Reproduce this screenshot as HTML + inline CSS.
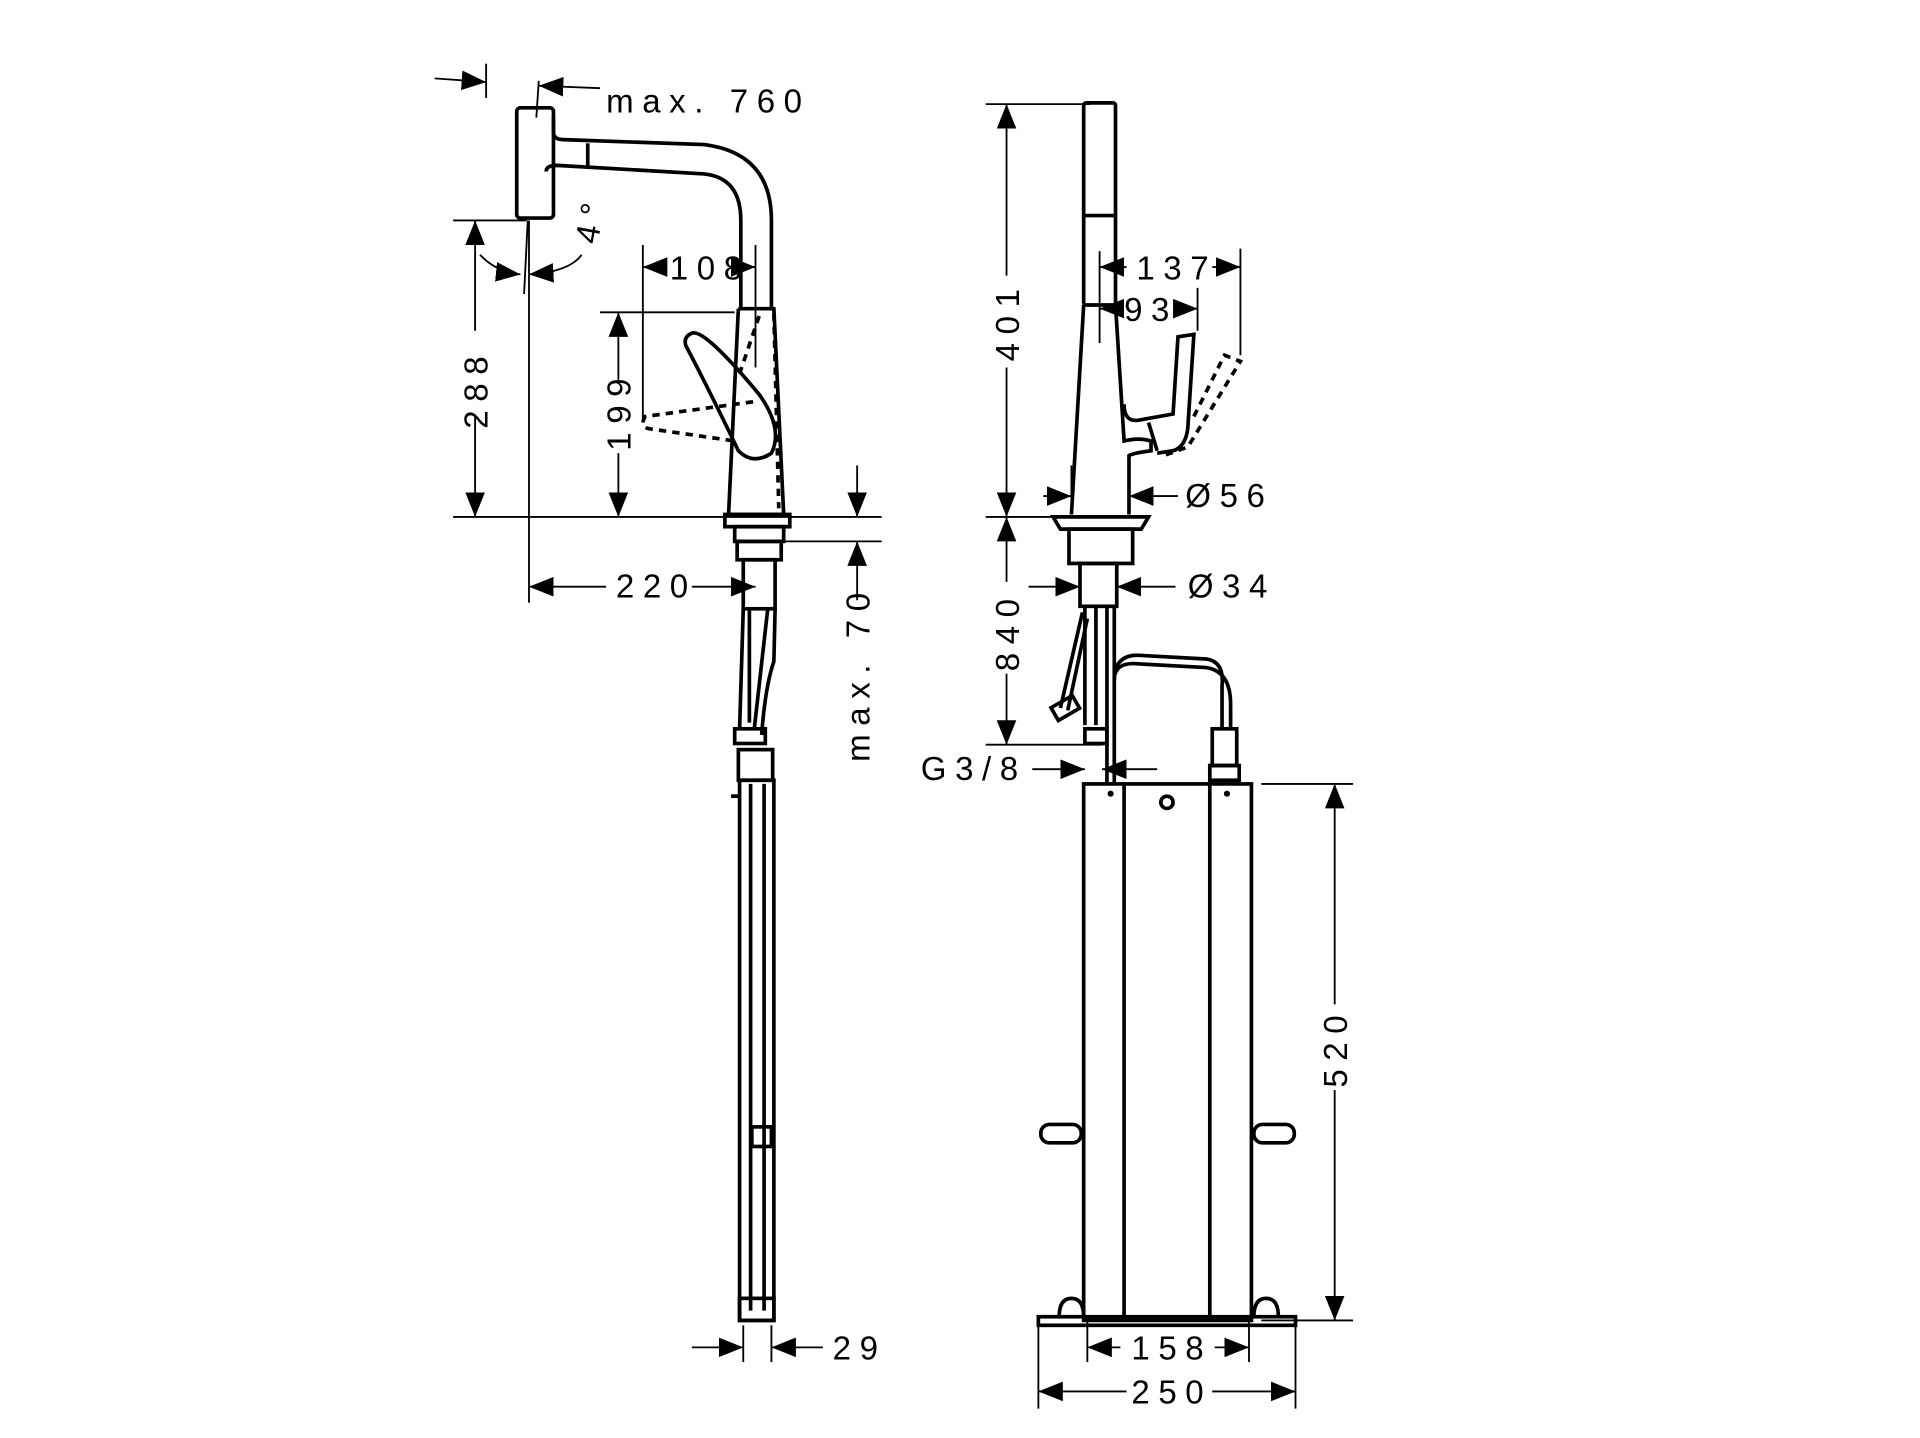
<!DOCTYPE html>
<html><head><meta charset="utf-8"><style>
html,body{margin:0;padding:0;background:#fff}
svg{display:block}
text{font-family:"Liberation Sans",sans-serif;font-size:27px;fill:#000;letter-spacing:7px}
</style></head><body>
<svg width="1920" height="1438" viewBox="0 0 1568 1174" preserveAspectRatio="none" xmlns="http://www.w3.org/2000/svg">
<defs>
<marker id="a" viewBox="0 0 20 16" refX="20" refY="8" markerWidth="20" markerHeight="16" markerUnits="userSpaceOnUse" orient="auto-start-reverse"><path d="M0,0 L20,8 L0,16z" fill="#000"/></marker>
</defs>
<g fill="none" stroke="#000" stroke-width="1.5">
<line x1="370" y1="180" x2="430" y2="180"/>
<line x1="370" y1="422" x2="720" y2="422"/>
<line x1="640" y1="442" x2="720" y2="442"/>
<line x1="432" y1="180" x2="432" y2="492"/>
<line x1="397" y1="52" x2="397" y2="80"/>
<line x1="440" y1="66" x2="438" y2="96"/>
<line x1="525" y1="200" x2="525" y2="345"/>
<line x1="617" y1="200" x2="617" y2="300"/>
<line x1="490" y1="255" x2="600" y2="255"/>
<line x1="607" y1="1082" x2="607" y2="1112"/>
<line x1="630" y1="1082" x2="630" y2="1112"/>
<line x1="355" y1="64" x2="397" y2="67" marker-end="url(#a)"/>
<line x1="490" y1="72" x2="440" y2="70" marker-end="url(#a)"/>
<line x1="388" y1="270" x2="388" y2="180" marker-end="url(#a)"/>
<line x1="388" y1="340" x2="388" y2="422" marker-end="url(#a)"/>
<line x1="505" y1="310" x2="505" y2="255" marker-end="url(#a)"/>
<line x1="505" y1="370" x2="505" y2="422" marker-end="url(#a)"/>
<line x1="545" y1="218" x2="525" y2="218" marker-end="url(#a)"/>
<line x1="597" y1="218" x2="617" y2="218" marker-end="url(#a)"/>
<line x1="495" y1="479" x2="432" y2="479" marker-end="url(#a)"/>
<line x1="565" y1="479" x2="617" y2="479" marker-end="url(#a)"/>
<line x1="700" y1="380" x2="700" y2="422" marker-end="url(#a)"/>
<line x1="700" y1="490" x2="700" y2="442" marker-end="url(#a)"/>
<line x1="565" y1="1100" x2="607" y2="1100" marker-end="url(#a)"/>
<line x1="672" y1="1100" x2="630" y2="1100" marker-end="url(#a)"/>
<path d="M392,208 Q405,222 425,224" marker-end="url(#a)"/>
<path d="M475,208 Q465,222 432,224" marker-end="url(#a)"/>
<line x1="431" y1="180" x2="428" y2="240"/>
</g>
<g fill="none" stroke="#000" stroke-width="3">
<rect x="422" y="88" width="30" height="90" rx="3"/>
<path d="M452,96 L452,108 Q452,114 460,114 L575,118 Q630,125 630,180 L630,252"/>
<path d="M446,140 Q446,135 455,135 L575,142 Q605,145 605,180 L605,252"/>
<line x1="480" y1="117" x2="480" y2="138"/>
<path d="M603,252 L632,252 L640,420 L595,420 L603,252"/>
<path d="M565,272 Q575,268 620,322 Q640,350 630,370 Q615,380 603,368 Q580,320 560,282 Q558,275 565,272z"/>
<rect x="592" y="420" width="53" height="10"/>
<rect x="600" y="430" width="40" height="12"/>
<rect x="602" y="442" width="36" height="15"/>
<rect x="607" y="457" width="26" height="40"/>
<path d="M607,497 L604,595 M633,497 L632,540 Q625,560 622,600 M612,497 L612,590 M627,497 Q622,540 616,595"/>
<rect x="600" y="595" width="25" height="12"/>
<rect x="603" y="612" width="28" height="25"/>
<rect x="604" y="637" width="28" height="441"/>
<line x1="613" y1="640" x2="613" y2="1070"/>
<line x1="624" y1="640" x2="624" y2="1070"/>
<rect x="604" y="1060" width="28" height="18"/>
<line x1="597" y1="650" x2="604" y2="650"/>
<rect x="614" y="920" width="16" height="16"/>
</g>
<g fill="none" stroke="#000" stroke-width="3" stroke-dasharray="6,5">
<path d="M632,256 L636,415"/>
<path d="M620,258 L604,305"/>
<path d="M615,328 L527,340 Q522,348 530,350 L600,360"/>
</g>
<g fill="none" stroke="#000" stroke-width="1.5">
<line x1="805" y1="85" x2="890" y2="85"/>
<line x1="805" y1="422" x2="860" y2="422"/>
<line x1="805" y1="608" x2="900" y2="608"/>
<line x1="898" y1="205" x2="898" y2="280"/>
<line x1="1013" y1="203" x2="1013" y2="290"/>
<line x1="978" y1="235" x2="978" y2="270"/>
<line x1="875" y1="380" x2="875" y2="420"/>
<line x1="922" y1="380" x2="922" y2="420"/>
<line x1="848" y1="1078" x2="848" y2="1150"/>
<line x1="1058" y1="1078" x2="1058" y2="1150"/>
<line x1="888" y1="1078" x2="888" y2="1112"/>
<line x1="1020" y1="1078" x2="1020" y2="1112"/>
<line x1="1030" y1="640" x2="1105" y2="640"/>
<line x1="1030" y1="1078" x2="1105" y2="1078"/>
<line x1="822" y1="225" x2="822" y2="85" marker-end="url(#a)"/>
<line x1="822" y1="300" x2="822" y2="422" marker-end="url(#a)"/>
<line x1="822" y1="475" x2="822" y2="422" marker-end="url(#a)"/>
<line x1="822" y1="550" x2="822" y2="608" marker-end="url(#a)"/>
<line x1="920" y1="218" x2="898" y2="218" marker-end="url(#a)"/>
<line x1="990" y1="218" x2="1013" y2="218" marker-end="url(#a)"/>
<line x1="912" y1="252" x2="898" y2="252" marker-end="url(#a)"/>
<line x1="958" y1="252" x2="978" y2="252" marker-end="url(#a)"/>
<line x1="852" y1="405" x2="875" y2="405" marker-end="url(#a)"/>
<line x1="962" y1="405" x2="922" y2="405" marker-end="url(#a)"/>
<line x1="840" y1="479" x2="882" y2="479" marker-end="url(#a)"/>
<line x1="960" y1="479" x2="912" y2="479" marker-end="url(#a)"/>
<line x1="843" y1="628" x2="886" y2="628" marker-end="url(#a)"/>
<line x1="945" y1="628" x2="900" y2="628" marker-end="url(#a)"/>
<line x1="1090" y1="820" x2="1090" y2="640" marker-end="url(#a)"/>
<line x1="1090" y1="890" x2="1090" y2="1078" marker-end="url(#a)"/>
<line x1="915" y1="1100" x2="888" y2="1100" marker-end="url(#a)"/>
<line x1="992" y1="1100" x2="1020" y2="1100" marker-end="url(#a)"/>
<line x1="920" y1="1136" x2="848" y2="1136" marker-end="url(#a)"/>
<line x1="990" y1="1136" x2="1058" y2="1136" marker-end="url(#a)"/>
</g>
<g fill="none" stroke="#000" stroke-width="3">
<rect x="885" y="84" width="26" height="165" rx="2"/>
<line x1="885" y1="176" x2="911" y2="176"/>
<path d="M885,249 L875,420 M911,249 L918,360 Q930,357 940,360 L940,368 Q925,370 922,372 L922,420"/>
<path d="M918,330 Q918,345 930,343 L958,338 L962,275 L975,273 L970,350 Q968,365 958,368 L945,370"/>
<path d="M938,345 L945,368"/>
<path d="M860,422 L938,422 L932,432 L866,432z"/>
<rect x="873" y="432" width="52" height="28"/>
<rect x="882" y="460" width="30" height="35"/>
<path d="M886,495 L886,592 M895,495 L895,592 M904,495 L904,640 M910,495 L910,640"/>
<path d="M884,500 L866,578 M888,505 L872,580"/>
<rect x="860" y="572" width="20" height="12" transform="rotate(-30 870 578)"/>
<rect x="886" y="595" width="18" height="12"/>
<path d="M910,555 Q910,540 930,542 L985,545 Q1005,548 1005,575 L1005,595"/>
<path d="M910,548 Q915,534 930,535 L985,538 Q1000,540 998,560 L998,595"/>
<rect x="990" y="595" width="20" height="30"/>
<rect x="988" y="625" width="24" height="12"/>
<rect x="885" y="640" width="137" height="438"/>
<line x1="918" y1="640" x2="918" y2="1078"/>
<line x1="988" y1="640" x2="988" y2="1078"/>
<circle cx="953" cy="655" r="5"/>
<rect x="848" y="1075" width="210" height="7"/>
<rect x="850" y="918" width="33" height="15" rx="7"/>
<rect x="1024" y="918" width="33" height="15" rx="7"/>
<path d="M865,1075 Q865,1060 875,1060 Q885,1060 885,1075 M1024,1075 Q1024,1060 1034,1060 Q1044,1060 1044,1075"/>
</g>
<circle cx="907" cy="648" r="2.5"/><circle cx="1002" cy="648" r="2.5"/>
<g fill="none" stroke="#000" stroke-width="3" stroke-dasharray="6,5">
<path d="M975,340 L1000,290 L1013,295 L970,365 L950,372"/>
</g>
<text x="495" y="92">max. 760</text>
<text x="547" y="228">108</text>
<text x="928" y="228">137</text>
<text x="918" y="262">93</text>
<text x="968" y="414">Ø56</text>
<text x="970" y="488">Ø34</text>
<text x="752" y="637">G3/8</text>
<text x="503" y="488">220</text>
<text x="680" y="1110">29</text>
<text x="924" y="1110">158</text>
<text x="924" y="1146">250</text>
<text transform="translate(398,350) rotate(-90)">288</text>
<text transform="translate(515,368) rotate(-90)">199</text>
<text transform="translate(710,622) rotate(-90)">max. 70</text>
<text transform="translate(832,295) rotate(-90)">401</text>
<text transform="translate(832,548) rotate(-90)">840</text>
<text transform="translate(1100,888) rotate(-90)">520</text>
<text transform="translate(488,200) rotate(-80)">4°</text>
</svg>
</body></html>
